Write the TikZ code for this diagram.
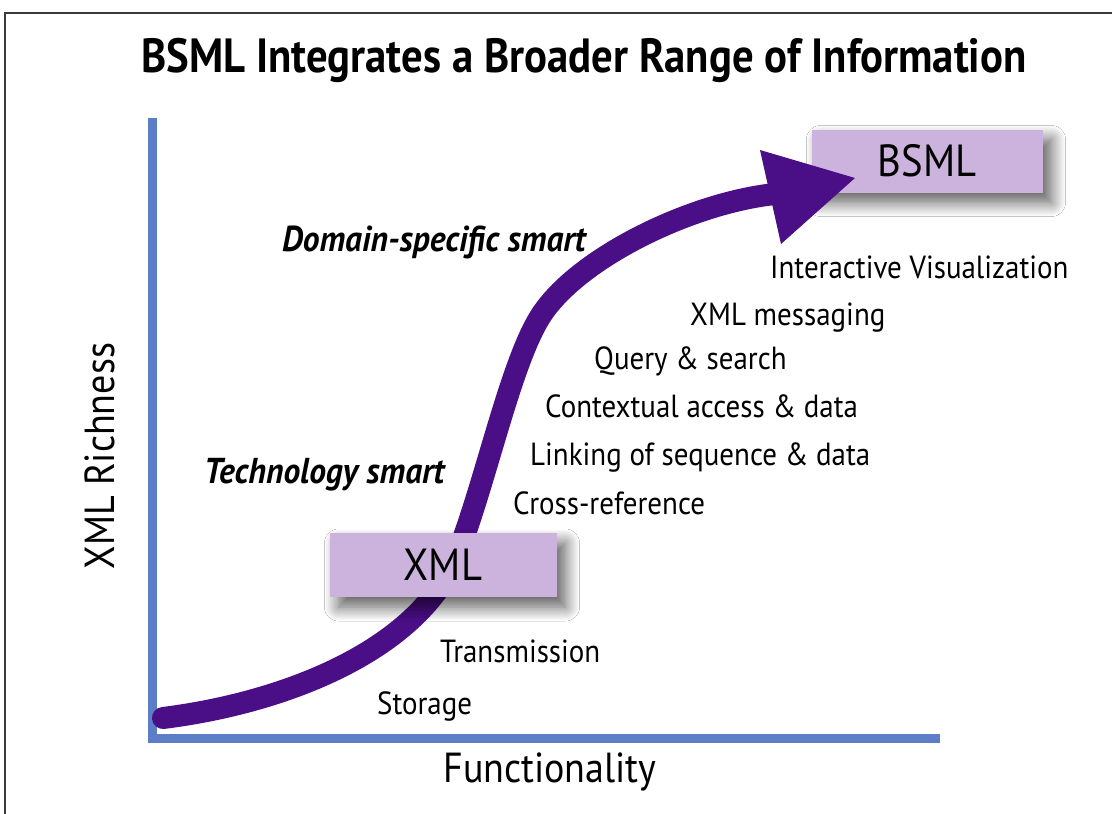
\documentclass[tikz,border=0pt]{standalone}
\usepackage{fontspec}
\usepackage{graphicx}
\setmainfont{PT Sans}
\newfontfamily\lblfont{PT Sans}[FakeStretch=0.905]
\newfontfamily\smartfont{PT Sans}[FakeStretch=0.93]
\newfontfamily\titlefont{PT Sans}[FakeStretch=0.89]
\usetikzlibrary{shadows.blur}
\definecolor{axisblue}{HTML}{5B7EC6}
\definecolor{arrowpurple}{HTML}{4A0E86}
\definecolor{boxfill}{HTML}{CBB3DD}
\definecolor{framegray}{HTML}{3A3A3A}
\tikzset{
  stagebox/.style={fill=boxfill, inner sep=0pt, font=\lblfont\fontsize{45}{48}\selectfont,
    blur shadow={shadow xshift=9pt, shadow yshift=-10pt, shadow blur radius=14pt, shadow blur steps=18, shadow opacity=65}},
  feat/.style={anchor=base west, inner sep=0pt, font=\lblfont\fontsize{32}{36}\selectfont},
  smart/.style={anchor=base west, inner sep=0pt, font=\smartfont\bfseries\itshape\fontsize{36}{40}\selectfont},
  axislabel/.style={inner sep=0pt, font=\lblfont\fontsize{42}{46}\selectfont},
  axisline/.style={draw=axisblue, line width=9pt},
  growth/.style={draw=arrowpurple, line width=22pt, line cap=round},
}
\begin{document}
\begin{tikzpicture}[x=1pt,y=-1pt]
\useasboundingbox (0,0) rectangle (1112,814);
\fill[white] (0,0) rectangle (1112,814);
% frame
\draw[framegray, line width=2.5pt] (5,816) -- (5,13) -- (1114,13);
% title
\node[inner sep=0pt, font=\titlefont\bfseries\fontsize{48}{52}\selectfont] (title) at (584,60) {BSML Integrates a Broader Range of Information};
% axes
\coordinate (ytop) at (152,118);
\coordinate (corner) at (152,738);
\coordinate (xend) at (940,738);
\draw[axisline] (ytop) -- ([yshift=-4.5pt]corner) ;
\draw[axisline] ([xshift=-4.5pt]corner) -- (xend);
\node[axislabel, rotate=90] (ylab) at (100,456) {XML Richness};
\node[axislabel] (xlab) at (550,772) {Functionality};
% BSML box
\node[stagebox, minimum width=231pt, minimum height=63pt] (bsml) at (927,161) {BSML};
% growth arrow
\coordinate (start) at (163,718);
\coordinate (m1) at (457,555);
\coordinate (m2) at (540,317);
\coordinate (tail) at (775,194);
\draw[growth] (start) .. controls (290,702) and (420,648) .. (m1)
  .. controls (485,485) and (510,365) .. (m2)
  .. controls (576,259) and (690,203) .. (tail);
\coordinate (tipA) at (760,150);
\coordinate (tip) at (855,178);
\coordinate (tipB) at (781,244);
\fill[arrowpurple] (tipA) -- (tip) -- (tipB) -- cycle;
% XML box
\node[stagebox, minimum width=227pt, minimum height=64pt] (xml) at (443,565) {XML};
% labels
\node[feat] (iv) at (770,278) {Interactive Visualization};
\node[feat] (msg) at (690,325) {XML messaging};
\node[feat] (qs) at (594,369) {Query \& search};
\node[feat] (ca) at (545,417) {Contextual access \& data};
\node[feat] (lk) at (530,465) {Linking of sequence \& data};
\node[feat] (cr) at (513,514) {Cross-reference};
\node[feat] (tr) at (440,662) {Transmission};
\node[feat] (st) at (377,714) {Storage};
\node[smart] (dss) at (282,251) {Domain-specific smart};
\node[smart] (ts) at (204,483) {Technology smart};
\end{tikzpicture}
\end{document}
